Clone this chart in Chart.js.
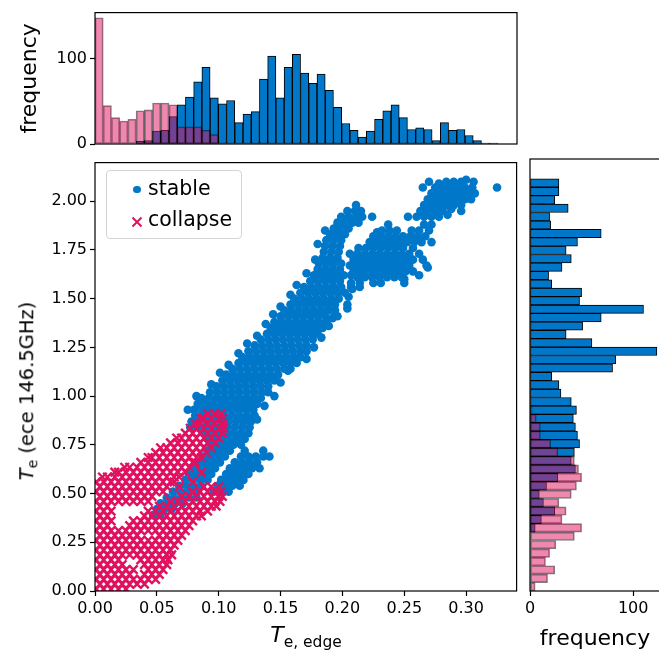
<!DOCTYPE html>
<html>
<head>
<meta charset="utf-8">
<script src="https://cdn.jsdelivr.net/npm/chart.js@4.4.0/dist/chart.umd.min.js"></script>
<style>
  html, body { margin: 0; padding: 0; background: #fff; overflow: hidden; }
  #wrap { position: relative; width: 659px; height: 658px; overflow: hidden; font-family: "DejaVu Sans", sans-serif; color: #000; }
  canvas { position: absolute; }
  #topHist { left: 0; top: 0; }
  #main { left: 0; top: 150px; }
  #sideHist { left: 518px; top: 150px; }
  .lab { position: absolute; white-space: nowrap; font-size: 22px; line-height: 1; }
  .lab i { font-style: italic; }
  .sub { font-size: 15.5px; position: relative; top: 5px; }
  #xLabel { left: 306px; top: 624px; transform: translateX(-50%); }
  #yLabel { left: 27px; top: 391px; font-size: 19.5px; transform: translate(-50%, -50%) rotate(-90deg); }
  #yLabel .sub { font-size: 14px; top: 4px; }
  #legend { position: absolute; left: 106px; top: 170px; width: 136px; height: 69px; box-sizing: border-box;
            border: 1px solid #d4d4d4; border-radius: 4px; background: rgba(255,255,255,0.8); font-size: 20.5px; line-height: 1; }
  #legend .txt { position: absolute; left: 41px; }
  #legend .dot { position: absolute; left: 26px; top: 14.5px; width: 7.6px; height: 7.6px; border-radius: 50%; background: #0077C8; }
  #legend svg { position: absolute; left: 24px; top: 45px; }
</style>
</head>
<body>
<div id="wrap">
  <canvas id="topHist" width="525" height="160"></canvas>
  <canvas id="main" width="525" height="508"></canvas>
  <canvas id="sideHist" width="142" height="508"></canvas>
  <div class="lab" id="xLabel"><i>T</i><span class="sub">e, edge</span></div>
  <div class="lab" id="yLabel"><i>T</i><span class="sub">e</span> (ece 146.5GHz)</div>
  <div id="legend">
    <span class="dot"></span><span class="txt" style="top:7px">stable</span>
    <svg width="12" height="12"><path d="M1.5,1.5L10.5,10.5M10.5,1.5L1.5,10.5" stroke="#E0115F" stroke-width="2"/></svg>
    <span class="txt" style="top:38px">collapse</span>
  </div>
</div>
<script>
// axis ranges and ticks
const xRange = [0, 0.3408];
const yRange = [0, 2.198];
const xTicks = [0, 0.05, 0.10, 0.15, 0.20, 0.25, 0.30];
const yTicks = [0, 0.25, 0.50, 0.75, 1.00, 1.25, 1.50, 1.75, 2.00];
const freqTicks = [0, 100];

// histogram bins (counts per bin, first bin starts at 0)
const binWidthX = 0.00664;
const binWidthY = 0.0428;
const stableHistX = [0, 0, 0, 0, 0, 3, 4, 15, 16, 32, 46, 55, 73, 90, 54, 47, 51, 25, 35, 38,
  76, 103, 54, 90, 105, 83, 71, 82, 63, 43, 24, 16, 8, 15, 29, 39, 46, 31, 17, 19,
  17, 4, 25, 16, 17, 10, 4, 1, 1];
const collapseHistX = [148, 45, 31, 27, 29, 39, 40, 48, 48, 46, 20, 20, 20, 16, 11];
const stableHistY = [0, 0, 0, 0, 0, 0, 0, 5, 11, 24, 13, 9, 16, 27, 44, 40, 43, 48, 46, 44,
  42, 45, 40, 30, 28, 21, 80, 83, 123, 60, 35, 51, 69, 110, 48, 50, 21, 18, 31, 40,
  35, 46, 69, 20, 19, 37, 24, 28, 28];
const collapseHistY = [5, 17, 24, 15, 19, 25, 43, 50, 31, 35, 28, 40, 45, 50, 47, 43, 27, 20, 10, 10, 6, 2];

// scatter points, one row per Te value: [Te, Te_edge, Te_edge, ...]
const stableRows = [
  [0.39, 0.047, 0.053],
  [0.42, 0.050, 0.056, 0.062],
  [0.45, 0.053, 0.059, 0.065, 0.071],
  [0.48, 0.058, 0.064, 0.070, 0.076, 0.082],
  [0.51, 0.063, 0.069, 0.075, 0.081, 0.096, 0.102, 0.108],
  [0.54, 0.068, 0.074, 0.080, 0.086, 0.099, 0.105, 0.111, 0.117],
  [0.57, 0.073, 0.079, 0.085, 0.091, 0.102, 0.108, 0.114, 0.120],
  [0.60, 0.076, 0.082, 0.088, 0.094, 0.106, 0.112, 0.118, 0.124],
  [0.63, 0.079, 0.085, 0.091, 0.097, 0.109, 0.115, 0.121, 0.127, 0.133],
  [0.66, 0.083, 0.089, 0.095, 0.101, 0.113, 0.119, 0.125, 0.131],
  [0.69, 0.087, 0.093, 0.099, 0.105, 0.118, 0.124, 0.130, 0.136, 0.141],
  [0.72, 0.091, 0.097, 0.103, 0.109, 0.121, 0.136],
  [0.75, 0.094, 0.100, 0.106, 0.112, 0.118],
  [0.78, 0.091, 0.097, 0.103, 0.109, 0.115, 0.121],
  [0.81, 0.088, 0.094, 0.100, 0.106, 0.112, 0.118, 0.124],
  [0.84, 0.077, 0.083, 0.089, 0.095, 0.101, 0.107, 0.113, 0.119, 0.125],
  [0.87, 0.078, 0.084, 0.090, 0.096, 0.102, 0.108, 0.114, 0.120, 0.126],
  [0.88, 0.131],
  [0.90, 0.081, 0.087, 0.093, 0.099, 0.105, 0.111, 0.117, 0.123, 0.129],
  [0.93, 0.075, 0.080, 0.086, 0.092, 0.098, 0.104, 0.110, 0.116, 0.122, 0.128],
  [0.95, 0.137],
  [0.96, 0.083, 0.089, 0.095, 0.101, 0.107, 0.113, 0.119, 0.125, 0.131],
  [0.99, 0.086, 0.092, 0.098, 0.104, 0.110, 0.116, 0.122, 0.128, 0.134],
  [1.00, 0.082, 0.145],
  [1.02, 0.093, 0.099, 0.105, 0.111, 0.117, 0.123, 0.129, 0.135, 0.140],
  [1.05, 0.098, 0.104, 0.110, 0.116, 0.122, 0.128, 0.134, 0.140],
  [1.06, 0.094],
  [1.07, 0.150],
  [1.08, 0.103, 0.109, 0.115, 0.121, 0.127, 0.133, 0.139, 0.145],
  [1.11, 0.106, 0.112, 0.118, 0.124, 0.130, 0.136, 0.142, 0.148],
  [1.12, 0.101],
  [1.13, 0.156],
  [1.14, 0.111, 0.117, 0.123, 0.129, 0.135, 0.141, 0.147, 0.153, 0.158],
  [1.16, 0.108],
  [1.17, 0.116, 0.122, 0.128, 0.134, 0.140, 0.146, 0.152, 0.158, 0.163],
  [1.19, 0.171],
  [1.20, 0.119, 0.125, 0.131, 0.137, 0.143, 0.149, 0.155, 0.161, 0.166],
  [1.22, 0.116],
  [1.23, 0.124, 0.130, 0.136, 0.142, 0.148, 0.154, 0.160, 0.166, 0.171],
  [1.25, 0.177],
  [1.26, 0.129, 0.135, 0.141, 0.147, 0.153, 0.159, 0.165, 0.171],
  [1.27, 0.123],
  [1.29, 0.134, 0.140, 0.146, 0.152, 0.158, 0.164, 0.170, 0.176],
  [1.30, 0.183],
  [1.31, 0.131],
  [1.32, 0.139, 0.145, 0.151, 0.157, 0.163, 0.169, 0.175, 0.180],
  [1.35, 0.142, 0.148, 0.154, 0.160, 0.166, 0.172, 0.178, 0.184],
  [1.36, 0.189],
  [1.37, 0.138],
  [1.38, 0.145, 0.151, 0.157, 0.163, 0.169, 0.175, 0.181, 0.187],
  [1.40, 0.192],
  [1.41, 0.150, 0.156, 0.162, 0.168, 0.174, 0.180, 0.186, 0.196],
  [1.42, 0.144],
  [1.44, 0.153, 0.159, 0.165, 0.171, 0.177, 0.183, 0.189, 0.194],
  [1.45, 0.204],
  [1.46, 0.150],
  [1.47, 0.158, 0.164, 0.170, 0.176, 0.182, 0.188, 0.194, 0.204],
  [1.50, 0.161, 0.167, 0.173, 0.179, 0.185, 0.191, 0.197],
  [1.51, 0.205],
  [1.52, 0.158],
  [1.53, 0.166, 0.172, 0.178, 0.184, 0.190, 0.196, 0.202],
  [1.55, 0.208],
  [1.56, 0.169, 0.175, 0.181, 0.187, 0.193, 0.199, 0.207, 0.214],
  [1.57, 0.163],
  [1.59, 0.174, 0.180, 0.186, 0.192, 0.198],
  [1.62, 0.177, 0.183, 0.189, 0.195, 0.201, 0.207],
  [1.63, 0.171],
  [1.65, 0.180, 0.186, 0.192, 0.198],
  [1.68, 0.181, 0.187, 0.193, 0.199],
  [1.70, 0.178],
  [1.71, 0.184, 0.190, 0.196],
  [1.74, 0.185, 0.191, 0.197],
  [1.77, 0.186, 0.192, 0.198],
  [1.78, 0.180],
  [1.80, 0.187, 0.193, 0.199],
  [1.83, 0.190, 0.196, 0.202],
  [1.85, 0.186],
  [1.86, 0.193, 0.199, 0.205],
  [1.89, 0.196, 0.202, 0.208, 0.213],
  [1.92, 0.199, 0.205, 0.211, 0.216, 0.224],
  [1.95, 0.204, 0.210, 0.215],
  [1.98, 0.211],
  [1.58, 0.207, 0.214, 0.225, 0.231, 0.250],
  [1.60, 0.250],
  [1.61, 0.212, 0.218, 0.224, 0.230, 0.236, 0.242, 0.248],
  [1.62, 0.262],
  [1.64, 0.209, 0.215, 0.221, 0.227, 0.233, 0.239, 0.245, 0.251, 0.257],
  [1.66, 0.269],
  [1.67, 0.206, 0.212, 0.218, 0.224, 0.230, 0.236, 0.242, 0.248, 0.254, 0.268],
  [1.70, 0.209, 0.215, 0.221, 0.227, 0.233, 0.239, 0.245, 0.251, 0.257, 0.265],
  [1.73, 0.206, 0.212, 0.218, 0.224, 0.230, 0.236, 0.242, 0.248, 0.254, 0.262],
  [1.76, 0.213, 0.219, 0.225, 0.231, 0.237, 0.243, 0.249, 0.257],
  [1.79, 0.222, 0.228, 0.234, 0.240, 0.246, 0.252, 0.258, 0.264, 0.272],
  [1.82, 0.225, 0.231, 0.237, 0.243, 0.249, 0.255, 0.261, 0.267],
  [1.84, 0.228],
  [1.85, 0.232, 0.238, 0.244, 0.256, 0.262, 0.270],
  [1.88, 0.237, 0.266, 0.272],
  [1.92, 0.253, 0.260, 0.266, 0.272, 0.278],
  [1.93, 0.285],
  [1.95, 0.263, 0.269, 0.275, 0.281, 0.296],
  [1.96, 0.288],
  [1.98, 0.266, 0.272, 0.278, 0.284, 0.290, 0.296],
  [2.01, 0.269, 0.275, 0.281, 0.287, 0.293, 0.299, 0.304],
  [2.04, 0.272, 0.278, 0.284, 0.290, 0.296, 0.302, 0.307],
  [2.07, 0.265, 0.275, 0.281, 0.287, 0.293, 0.299, 0.305, 0.325],
  [2.09, 0.278],
  [2.10, 0.270, 0.284, 0.290, 0.296, 0.306],
  [2.11, 0.300]
];
const collapseRows = [
  [0.010, 0.001, 0.007, 0.013, 0.019, 0.025],
  [0.035, 0.004, 0.010, 0.016, 0.022, 0.028, 0.034, 0.040],
  [0.060, 0.001, 0.007, 0.013, 0.019, 0.025, 0.031, 0.037, 0.043, 0.049],
  [0.085, 0.004, 0.010, 0.016, 0.022, 0.028, 0.040, 0.046, 0.052],
  [0.110, 0.001, 0.007, 0.013, 0.019, 0.025, 0.031, 0.043, 0.049, 0.055],
  [0.135, 0.004, 0.010, 0.016, 0.022, 0.040, 0.046, 0.052, 0.058],
  [0.160, 0.001, 0.007, 0.013, 0.019, 0.037, 0.043, 0.049, 0.055, 0.059],
  [0.185, 0.004, 0.010, 0.016, 0.022, 0.028, 0.034, 0.040, 0.046, 0.052, 0.058, 0.062],
  [0.210, 0.001, 0.007, 0.013, 0.019, 0.025, 0.031, 0.037, 0.043, 0.049, 0.055, 0.061],
  [0.235, 0.004, 0.010, 0.016, 0.022, 0.028, 0.034, 0.040, 0.046, 0.052, 0.058, 0.064],
  [0.260, 0.001, 0.007, 0.013, 0.019, 0.025, 0.031, 0.037, 0.043, 0.049, 0.055, 0.061, 0.067],
  [0.285, 0.004, 0.010, 0.016, 0.022, 0.028, 0.034, 0.052, 0.058, 0.064, 0.070],
  [0.310, 0.001, 0.007, 0.013, 0.019, 0.025, 0.031, 0.037, 0.043, 0.049, 0.055, 0.061, 0.067, 0.073],
  [0.335, 0.004, 0.010, 0.028, 0.034, 0.040, 0.046, 0.052, 0.058, 0.064, 0.070, 0.076],
  [0.360, 0.001, 0.007, 0.013, 0.031, 0.037, 0.043, 0.049, 0.055, 0.061, 0.067, 0.073, 0.079],
  [0.385, 0.004, 0.010, 0.040, 0.046, 0.052, 0.058, 0.064, 0.070, 0.076, 0.082, 0.086],
  [0.410, 0.001, 0.007, 0.013, 0.043, 0.049, 0.055, 0.061, 0.067, 0.073, 0.079, 0.085, 0.091],
  [0.435, 0.004, 0.010, 0.052, 0.058, 0.064, 0.070, 0.076, 0.082, 0.088, 0.094, 0.098],
  [0.460, 0.001, 0.007, 0.013, 0.019, 0.025, 0.031, 0.037, 0.043, 0.061, 0.067, 0.073, 0.079, 0.085, 0.091, 0.097, 0.101],
  [0.485, 0.004, 0.010, 0.016, 0.022, 0.028, 0.034, 0.040, 0.046, 0.070, 0.076, 0.082, 0.088, 0.094, 0.100, 0.103],
  [0.510, 0.001, 0.007, 0.013, 0.019, 0.025, 0.031, 0.037, 0.043, 0.049, 0.055, 0.079, 0.085, 0.091, 0.097, 0.102],
  [0.535, 0.004, 0.010, 0.016, 0.022, 0.028, 0.034, 0.040, 0.046, 0.052, 0.058, 0.068, 0.088, 0.094, 0.100],
  [0.560, 0.001, 0.007, 0.013, 0.019, 0.025, 0.031, 0.037, 0.043, 0.049, 0.055, 0.061, 0.064, 0.079],
  [0.585, 0.006, 0.010, 0.016, 0.022, 0.028, 0.034, 0.040, 0.046, 0.052, 0.058, 0.064, 0.068],
  [0.610, 0.016, 0.019, 0.025, 0.031, 0.037, 0.043, 0.049, 0.055, 0.061, 0.067, 0.073, 0.086],
  [0.635, 0.024, 0.028, 0.034, 0.040, 0.046, 0.052, 0.058, 0.064, 0.070, 0.076],
  [0.660, 0.037, 0.043, 0.049, 0.055, 0.061, 0.067, 0.073, 0.079, 0.081],
  [0.685, 0.043, 0.046, 0.052, 0.058, 0.064, 0.070, 0.076, 0.082, 0.086],
  [0.710, 0.049, 0.055, 0.061, 0.067, 0.073, 0.079, 0.085, 0.090],
  [0.735, 0.053, 0.058, 0.064, 0.070, 0.076, 0.082, 0.088, 0.094],
  [0.760, 0.061, 0.067, 0.073, 0.079, 0.085, 0.091, 0.097],
  [0.785, 0.066, 0.070, 0.076, 0.082, 0.088, 0.094, 0.100],
  [0.810, 0.073, 0.079, 0.085, 0.091, 0.097, 0.103],
  [0.835, 0.077, 0.082, 0.088, 0.094, 0.100, 0.104],
  [0.860, 0.081, 0.085, 0.091, 0.097, 0.103],
  [0.885, 0.086, 0.088, 0.094, 0.100, 0.103],
  [0.910, 0.091, 0.097, 0.102]
];

const BLUE = "#0077C8";
const PINK = "#E0115F";
const PINK_A = "rgba(224,17,95,0.5)";

Chart.defaults.font.family = "'DejaVu Sans', sans-serif";
Chart.defaults.color = "#000";

const rowsToPoints = rows => rows.flatMap(([y, ...xs]) => xs.map(x => ({ x, y })));

function binsToBars(counts, width, horizontal) {
  const out = [];
  counts.forEach((c, i) => {
    if (!c) return;
    const mid = (i + 0.5) * width;
    out.push(horizontal ? { x: c, y: mid } : { x: mid, y: c });
  });
  return out;
}

const setTicks = list => scale => { scale.ticks = list.map(v => ({ value: v })); };
const tickFont = { size: 16 };
const titleFont = { size: 22 };
const tickGrid = { drawOnChartArea: false, drawTicks: true, tickLength: 5, tickColor: "#000", tickWidth: 1.2 };

// box around each plotting area, drawn above the data like matplotlib spines
const frame = {
  id: "frame",
  afterDraw(chart) {
    const { ctx, chartArea: a } = chart;
    ctx.save();
    ctx.strokeStyle = "#000";
    ctx.lineWidth = 1.2;
    ctx.strokeRect(a.left, a.top, a.right - a.left, a.bottom - a.top);
    ctx.restore();
  }
};

const common = {
  responsive: false,
  animation: false,
  devicePixelRatio: 1,
  events: [],
  plugins: { legend: { display: false }, tooltip: { enabled: false } }
};
const barOpts = { bar: { grouped: false, barPercentage: 1, categoryPercentage: 1, borderSkipped: false } };

// top: histogram of Te,edge
new Chart(document.getElementById("topHist"), {
  type: "bar",
  data: {
    datasets: [
      { label: "stable", data: binsToBars(stableHistX, binWidthX, false), backgroundColor: BLUE, borderColor: "#000", borderWidth: 1, order: 2 },
      { label: "collapse", data: binsToBars(collapseHistX, binWidthX, false), backgroundColor: PINK_A, borderColor: "rgba(0,0,0,0.5)", borderWidth: 1, order: 1 }
    ]
  },
  options: {
    ...common,
    datasets: barOpts,
    layout: { padding: { top: 10, right: 8, bottom: 16, left: 0 } },
    scales: {
      x: { type: "linear", display: false, min: xRange[0], max: xRange[1], offset: false, grid: { offset: false } },
      y: {
        min: 0, max: 154,
        afterBuildTicks: setTicks(freqTicks),
        afterFit: s => { s.width = 95; },
        grid: tickGrid, border: { display: false },
        ticks: { font: tickFont, padding: 3, autoSkip: false },
        title: { display: true, text: "frequency", font: titleFont, padding: { top: 17, bottom: 0 } }
      }
    }
  },
  plugins: [frame]
});

// main scatter
new Chart(document.getElementById("main"), {
  type: "scatter",
  data: {
    datasets: [
      { label: "stable", data: rowsToPoints(stableRows), pointRadius: 4.3, backgroundColor: BLUE, borderWidth: 0, clip: 0, order: 2 },
      { label: "collapse", data: rowsToPoints(collapseRows), pointStyle: "crossRot", pointRadius: 6, borderColor: PINK, backgroundColor: PINK, borderWidth: 2.4, clip: 0, order: 1 }
    ]
  },
  options: {
    ...common,
    layout: { padding: { top: 9, right: 8, bottom: 0, left: 0 } },
    scales: {
      x: {
        type: "linear", min: xRange[0], max: xRange[1],
        afterBuildTicks: setTicks(xTicks),
        afterFit: s => { s.height = 67; },
        grid: tickGrid, border: { display: false },
        ticks: { font: tickFont, padding: 3, autoSkip: false, maxRotation: 0, callback: v => v.toFixed(2) }
      },
      y: {
        type: "linear", min: yRange[0], max: yRange[1],
        afterBuildTicks: setTicks(yTicks),
        afterFit: s => { s.width = 95; },
        grid: tickGrid, border: { display: false },
        ticks: { font: tickFont, padding: 3, autoSkip: false, callback: v => v.toFixed(2) }
      }
    }
  },
  plugins: [frame]
});

// right: histogram of Te
new Chart(document.getElementById("sideHist"), {
  type: "bar",
  data: {
    datasets: [
      { label: "stable", data: binsToBars(stableHistY, binWidthY, true), backgroundColor: BLUE, borderColor: "#000", borderWidth: 1, order: 2 },
      { label: "collapse", data: binsToBars(collapseHistY, binWidthY, true), backgroundColor: PINK_A, borderColor: "rgba(0,0,0,0.5)", borderWidth: 1, order: 1 }
    ]
  },
  options: {
    ...common,
    indexAxis: "y",
    datasets: barOpts,
    layout: { padding: { top: 9, right: 0, bottom: 0, left: 12 } },
    scales: {
      y: { type: "linear", display: false, min: yRange[0], max: yRange[1], offset: false, grid: { offset: false } },
      x: {
        min: 0, max: 126,
        afterBuildTicks: setTicks(freqTicks),
        afterFit: s => { s.height = 67; },
        grid: tickGrid, border: { display: false },
        ticks: { font: tickFont, padding: 3, autoSkip: false, maxRotation: 0 },
        title: { display: true, text: "frequency", font: titleFont, padding: { top: 0, bottom: 6 } }
      }
    }
  },
  plugins: [frame]
});
</script>
</body>
</html>
